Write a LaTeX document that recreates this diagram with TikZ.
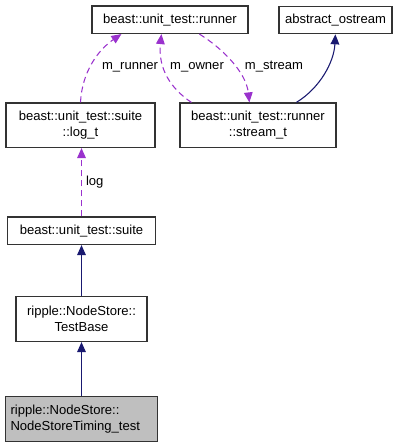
\documentclass[tikz,border=0pt]{standalone}
\usepackage{fontspec}
\setmainfont{Liberation Sans}
\usetikzlibrary{arrows.meta,calc}
\definecolor{edgepurple}{HTML}{9A32CD}
\definecolor{edgenavy}{HTML}{191970}
\definecolor{nodegray}{HTML}{BFBFBF}
\begin{document}
\begin{tikzpicture}[x=0.75pt,y=-0.75pt,
  cls/.style={draw=black!80,line width=0.9pt,fill=white,inner sep=0pt,
    font=\fontsize{9.8}{12}\selectfont,align=center},
  usage/.style={draw=edgepurple,line width=0.8pt,dash pattern=on 4.5pt off 3pt,
    arrows={-{Triangle[length=7.5pt,width=6.5pt,fill=edgepurple]}}},
  inherit/.style={draw=edgenavy,line width=0.8pt,
    -{Triangle[length=7.5pt,width=6.5pt,fill=edgenavy]}},
  lbl/.style={font=\fontsize{9.8}{12}\selectfont,inner sep=0pt}]
\useasboundingbox (0,0) rectangle (408,448);

% class boxes
\node[cls,minimum width=156*0.75pt,minimum height=27.5*0.75pt] (runner) at (170,19.75) {beast::unit\_test::runner};
\node[cls,minimum width=113*0.75pt,minimum height=27.5*0.75pt] (aostream) at (335.5,20) {abstract\_ostream};
\node[cls,minimum width=149*0.75pt,minimum height=44.5*0.75pt] (logt) at (80.5,125.25) {beast::unit\_test::suite\\::log\_t};
\node[cls,minimum width=156*0.75pt,minimum height=44.5*0.75pt] (streamt) at (258,125.25) {beast::unit\_test::runner\\::stream\_t};
\node[cls,minimum width=148*0.75pt,minimum height=27.5*0.75pt] (suite) at (81.5,230.75) {beast::unit\_test::suite};
\node[cls,minimum width=131*0.75pt,minimum height=45*0.75pt] (testbase) at (81.5,319) {ripple::NodeStore::\\TestBase};
\node[cls,fill=nodegray,minimum width=152*0.75pt,minimum height=45*0.75pt,align=left] (timing) at (81.5,418.75)
  {\parbox{142\dimexpr0.75pt\relax}{ripple::NodeStore::\\NodeStoreTiming\_test}};

% inheritance
\draw[inherit] (timing.north) -- (testbase.south);
\draw[inherit] (testbase.north) -- (suite.south);
\draw[inherit] ($(streamt.north west)+(117,0)$) .. controls (320,88) and (334,62) .. ($(aostream.south west)+(57,0)$);

% usage relations
\draw[usage] (suite.north) -- node[lbl,right=3pt,pos=0.5] {log} (suite.north |- logt.south);
\draw[usage] (logt.north) .. controls (82,72) and (98,50) .. ($(runner.south west)+(30,0)$);
\draw[usage] ($(streamt.north west)+(12,0)$) .. controls (170,88) and (158,68) .. ($(runner.south west)+(70,0)$);
\draw[usage] ($(runner.south west)+(108,0)$) .. controls (222,48) and (246,72) .. ($(streamt.north west)+(70,0)$);

% labels
\node[lbl] (lrunner) at (130,67) {m\_runner};
\node[lbl] (lowner) at (197,67) {m\_owner};
\node[lbl] (lstream) at (274,67) {m\_stream};
\end{tikzpicture}
\end{document}
